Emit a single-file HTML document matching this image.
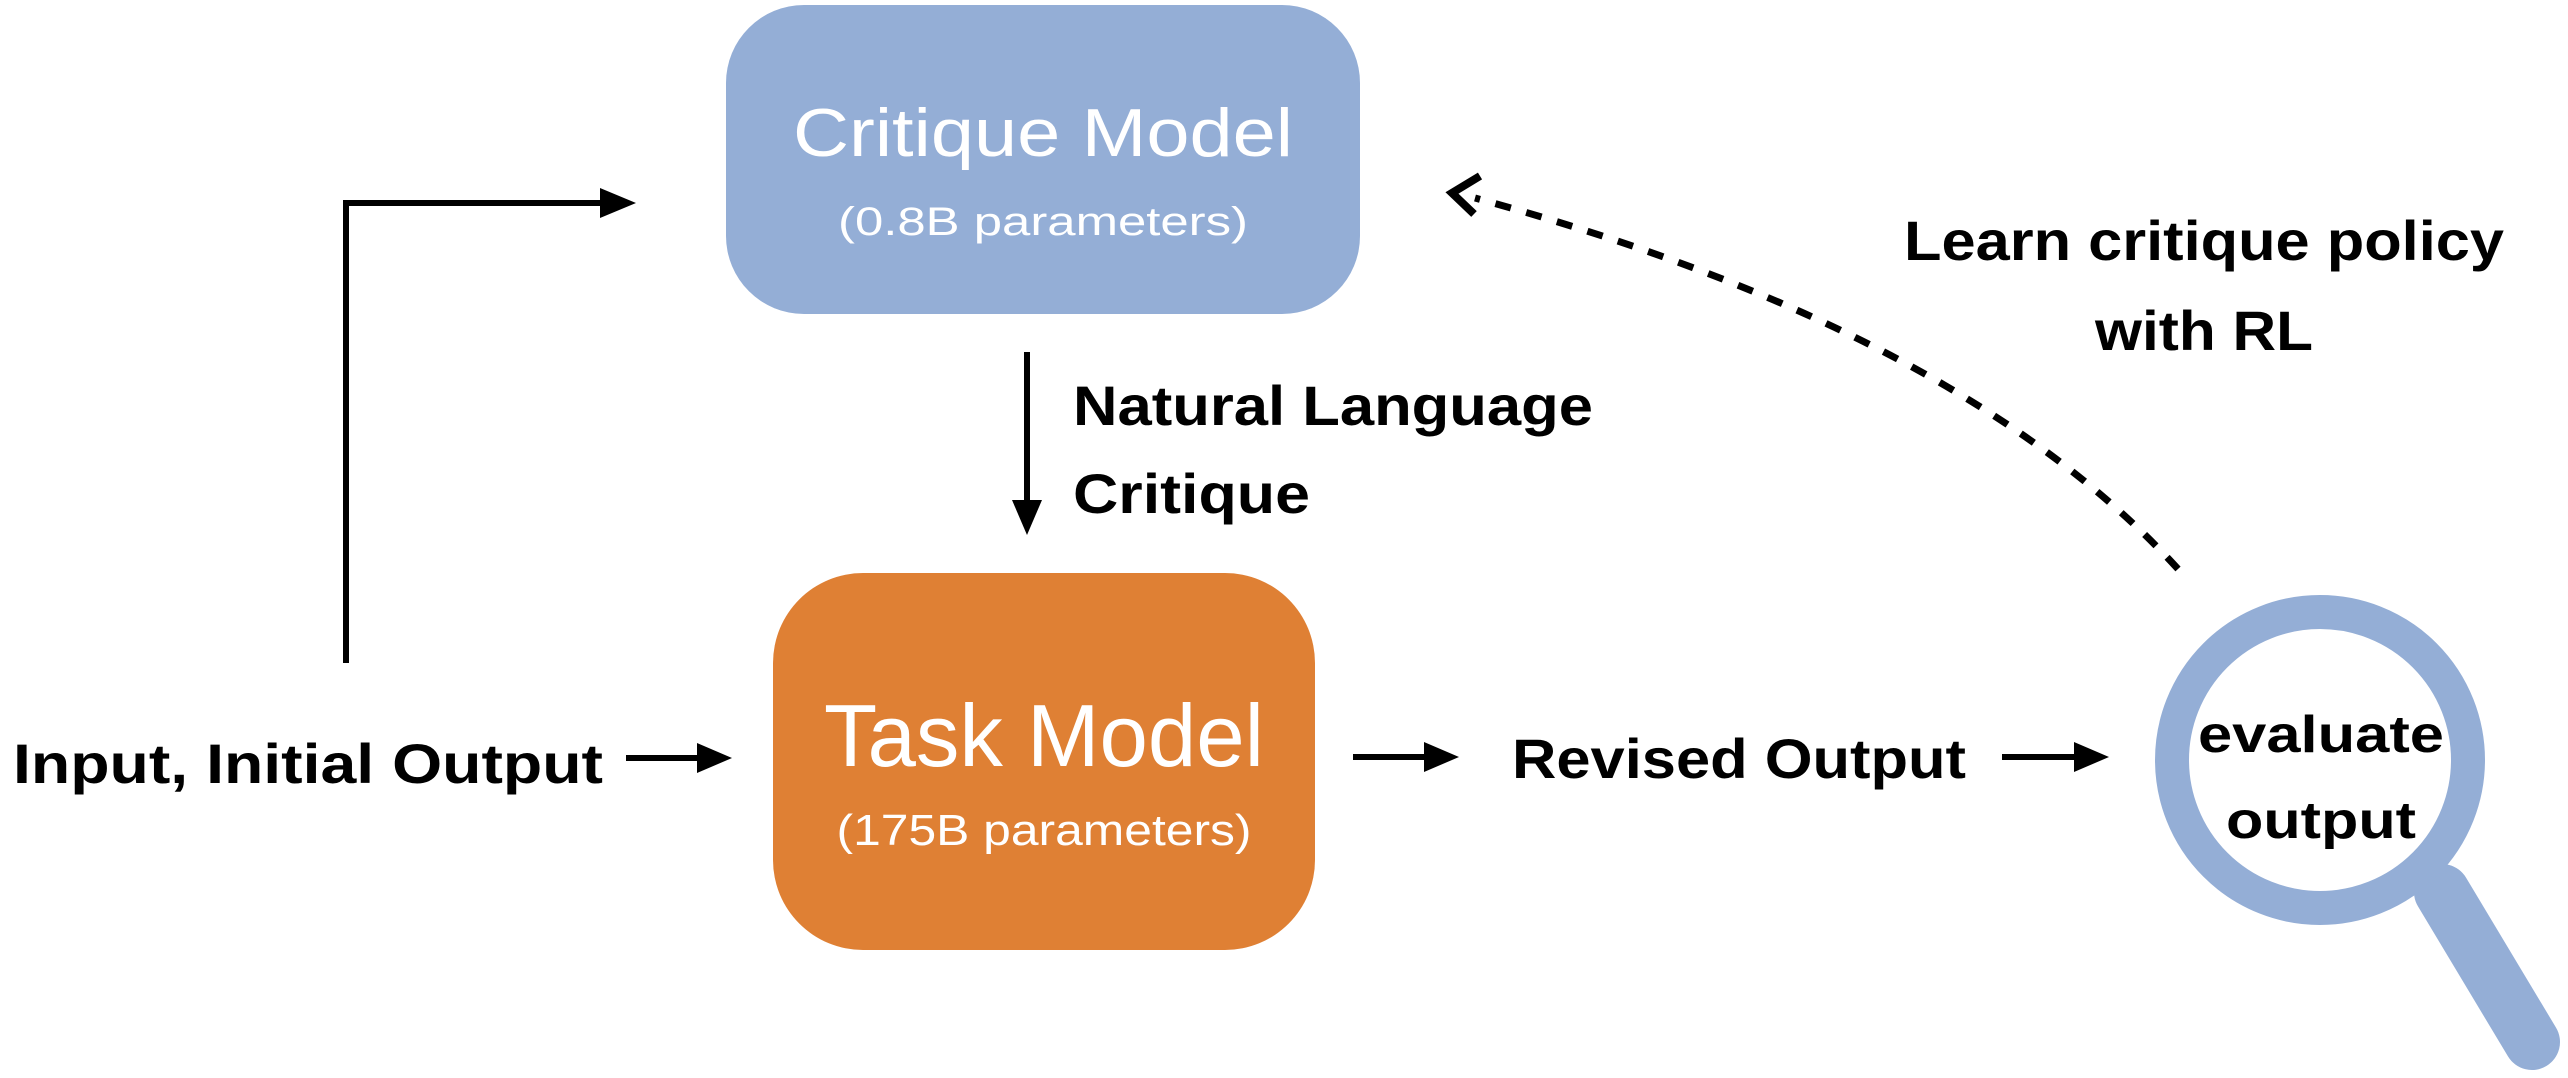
<!DOCTYPE html>
<html><head><meta charset="utf-8"><style>
html,body{margin:0;padding:0;background:#fff;}
svg{display:block;}
text{font-family:"Liberation Sans",sans-serif;}
</style></head><body>
<svg width="2568" height="1078" viewBox="0 0 2568 1078" xmlns="http://www.w3.org/2000/svg">
<rect x="726" y="5" width="634" height="309" rx="78" fill="#94aed6"/>
<text x="1043" y="156" font-size="68" fill="#fff" text-anchor="middle" textLength="500" lengthAdjust="spacingAndGlyphs">Critique Model</text>
<text x="1043" y="235" font-size="40" fill="#fff" text-anchor="middle" textLength="410" lengthAdjust="spacingAndGlyphs">(0.8B parameters)</text>
<rect x="773" y="573" width="542" height="377" rx="90" fill="#df8034"/>
<text x="1044" y="766" font-size="88" fill="#fff" text-anchor="middle" textLength="440" lengthAdjust="spacingAndGlyphs">Task Model</text>
<text x="1044" y="845" font-size="44" fill="#fff" text-anchor="middle" textLength="415" lengthAdjust="spacingAndGlyphs">(175B parameters)</text>
<g stroke="#000" stroke-width="6" fill="none">
<polyline points="346,663 346,203 608,203"/>
<line x1="626" y1="758" x2="705" y2="758"/>
<line x1="1027" y1="352" x2="1027" y2="505"/>
<line x1="1353" y1="757" x2="1430" y2="757"/>
<line x1="2002" y1="757" x2="2080" y2="757"/>
<path d="M2178,569 Q1960,330 1475,198" stroke-width="7" stroke-dasharray="16,16"/>
<polyline points="1480,176 1452,193 1474,214" stroke-width="8"/>
</g>
<g fill="#000">
<polygon points="600,188 636,203 600,218"/>
<polygon points="697,743 732,758 697,773"/>
<polygon points="1012,500 1027,535 1042,500"/>
<polygon points="1424,742 1459,757 1424,772"/>
<polygon points="2074,742 2109,757 2074,772"/>
</g>
<g font-weight="bold" font-size="56" fill="#000">
<text x="13" y="783" textLength="590" lengthAdjust="spacingAndGlyphs">Input, Initial Output</text>
<text x="1073" y="425" textLength="520" lengthAdjust="spacingAndGlyphs">Natural Language</text>
<text x="1073" y="513" textLength="237" lengthAdjust="spacingAndGlyphs">Critique</text>
<text x="1512" y="778" textLength="454" lengthAdjust="spacingAndGlyphs">Revised Output</text>
<text x="2204" y="260" text-anchor="middle" textLength="600" lengthAdjust="spacingAndGlyphs">Learn critique policy</text>
<text x="2204" y="350" text-anchor="middle" textLength="218" lengthAdjust="spacingAndGlyphs">with RL</text>
</g>
<line x1="2442" y1="892" x2="2532" y2="1042" stroke="#94aed6" stroke-width="56" stroke-linecap="round"/>
<circle cx="2320" cy="760" r="148" fill="#fff" stroke="#94aed6" stroke-width="34"/>
<g font-weight="bold" font-size="52" fill="#000" text-anchor="middle">
<text x="2321" y="752" textLength="246" lengthAdjust="spacingAndGlyphs">evaluate</text>
<text x="2321" y="838" textLength="190" lengthAdjust="spacingAndGlyphs">output</text>
</g>
</svg>
</body></html>
